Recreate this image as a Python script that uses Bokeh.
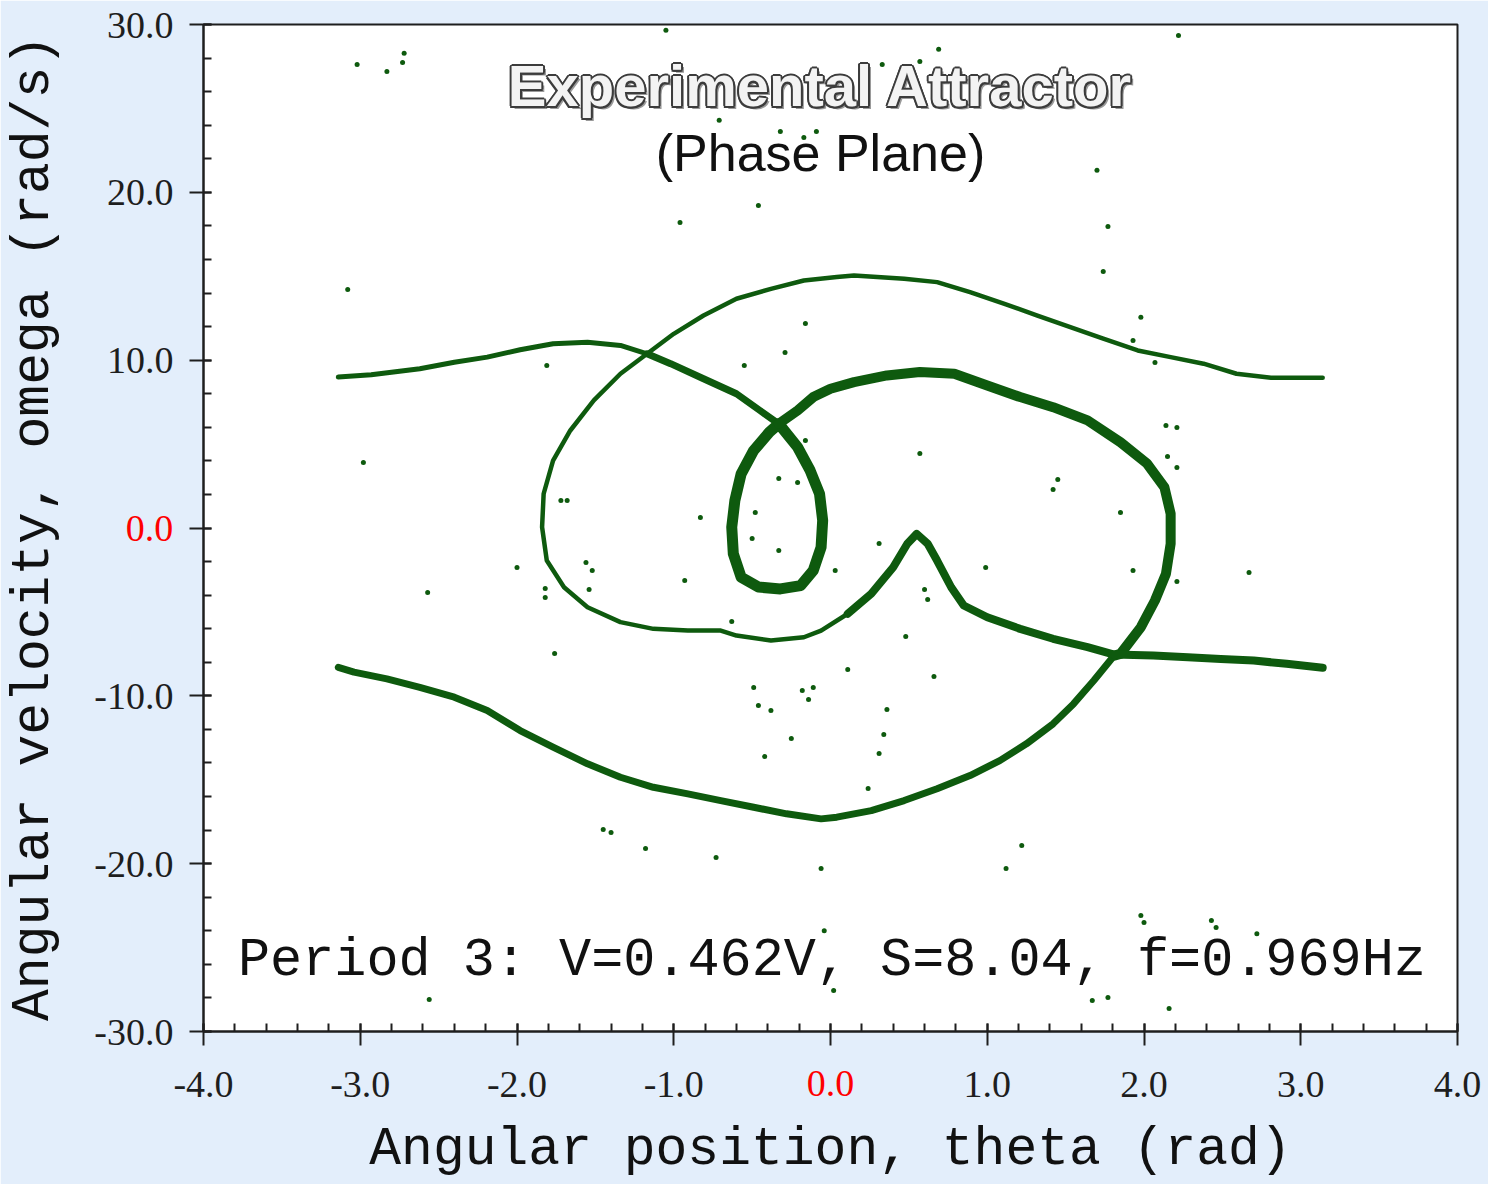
from bokeh.plotting import figure
from bokeh.models import Label, SingleIntervalTicker, PrintfTickFormatter, LinearAxis, FixedTicker
from bokeh.embed import file_html
from bokeh.resources import INLINE

# ---- attractor trace (theta in rad, omega in rad/s) ----
# first pass: enters at -pi on the upper branch
top_left_theta = [-3.14, -2.93, -2.62, -2.40, -2.19, -1.98, -1.77, -1.55, -1.34, -1.17]
top_left_omega = [8.99, 9.13, 9.49, 9.88, 10.18, 10.62, 10.98, 11.07, 10.88, 10.38]

descent_theta = [-1.17, -1.02, -0.81, -0.60, -0.45, -0.33]
descent_omega = [10.38, 9.79, 8.89, 8.00, 7.00, 6.21]

small_loop_theta = [-0.33, -0.21, -0.13, -0.07, -0.05, -0.06, -0.11, -0.19, -0.32, -0.46, -0.57,
                    -0.62, -0.63, -0.61, -0.57, -0.49, -0.39, -0.33]
small_loop_omega = [6.21, 4.82, 3.43, 2.04, 0.45, -1.14, -2.53, -3.43, -3.63, -3.52, -2.93,
                    -1.54, 0.05, 1.64, 3.23, 4.62, 5.71, 6.21]

right_lobe_theta = [-0.33, -0.21, -0.11, 0.00, 0.15, 0.36, 0.57, 0.79, 1.00, 1.21, 1.42, 1.64,
                    1.85, 2.02, 2.13, 2.17, 2.17, 2.14, 2.07, 1.98, 1.85, 1.81]
right_lobe_omega = [6.21, 7.00, 7.80, 8.30, 8.69, 9.09, 9.29, 9.19, 8.49, 7.80, 7.20, 6.41,
                    5.11, 3.83, 2.43, 0.85, -0.94, -2.73, -4.32, -5.91, -7.50, -7.60]

lower_arc_theta = [1.81, 1.68, 1.55, 1.42, 1.25, 1.08, 0.89, 0.68, 0.47, 0.26, 0.04, -0.06, -0.28,
                   -0.49, -0.70, -0.91, -1.13, -1.34, -1.55, -1.77, -1.98, -2.19, -2.40, -2.62,
                   -2.83, -3.04, -3.14]
lower_arc_omega = [-7.60, -9.09, -10.48, -11.67, -12.86, -13.86, -14.75, -15.54, -16.24, -16.84,
                   -17.23, -17.33, -17.03, -16.64, -16.24, -15.84, -15.45, -14.85, -14.05, -13.06,
                   -12.07, -10.88, -10.08, -9.49, -8.99, -8.59, -8.30]

# second pass: re-enters at +pi on the lower branch
cusp_theta = [3.14, 2.91, 2.70, 2.49, 2.28, 2.06, 1.81, 1.64, 1.42, 1.21, 1.00, 0.85, 0.77,
              0.68, 0.62, 0.55, 0.49, 0.40, 0.26, 0.11]
cusp_omega = [-8.33, -8.09, -7.90, -7.80, -7.70, -7.60, -7.54, -7.10, -6.60, -6.01, -5.32, -4.62,
              -3.53, -1.94, -0.94, -0.35, -0.94, -2.34, -3.92, -5.11]

big_loop_theta = [0.11, -0.06, -0.17, -0.38, -0.60, -0.70, -0.91, -1.13, -1.34, -1.55, -1.70,
                  -1.81, -1.84, -1.83, -1.77, -1.66, -1.51, -1.34, -1.17, -1.00, -0.81, -0.60,
                  -0.38, -0.17, 0.04, 0.15, 0.47, 0.68, 0.89, 1.11, 1.32, 1.53, 1.74, 1.96,
                  2.17, 2.38, 2.59, 2.81, 3.14]
big_loop_omega = [-5.11, -6.11, -6.51, -6.70, -6.41, -6.11, -6.11, -6.01, -5.61, -4.72, -3.53,
                  -1.94, 0.05, 2.04, 4.02, 5.81, 7.60, 9.19, 10.38, 11.57, 12.66, 13.66,
                  14.25, 14.75, 14.95, 15.05, 14.85, 14.65, 14.05, 13.36, 12.66, 11.97, 11.28, 10.58,
                  10.18, 9.79, 9.19, 8.95, 8.95]

# isolated samples off the orbit
stray_theta = [-3.02, -2.83, -2.73, -2.72, -3.08, -2.98, -1.05, 0.33, 0.57, 0.69, 0.45, -0.71, -0.32, -0.09,
               -0.17, 1.70, 2.22, 1.77, 1.74, 1.98, 1.93, 2.07, -0.96, -0.46, -0.16, -0.29, -0.55, -1.81,
               -0.16, -0.33, -0.21, -0.48, -0.83, -0.50, -0.33, 0.03, -0.93, -1.72, -1.68, -2.00, -1.56,
               -1.52, -1.54, -1.82, -1.82, -2.57, -0.63, -1.76, 2.14, 2.21, 2.15, 2.21, 0.57, 1.45, 1.42,
               1.85, 0.31, 0.99, 1.93, 2.21, 2.67, 0.60, 0.62, 0.48, 0.11, 0.66, 0.36, 0.34, 0.31, 0.24,
               -0.49, -0.46, -0.38, -0.18, -0.11, -0.14, -0.25, -0.42, -1.45, -1.40, -1.18, -0.73, -0.06,
               1.12, 1.22, -2.56, -0.04, 0.02, 1.98, 2.00, 2.43, 2.46, 2.72, 1.67, 1.77, 2.16]
stray_omega = [27.62, 27.20, 27.74, 28.28, 14.21, 3.90, 29.65, 27.62, 27.80, 28.52, 26.97, 24.29, 23.62, 23.62,
               23.27, 21.31, 29.35, 17.97, 15.29, 12.55, 11.17, 9.86, 18.21, 19.22, 12.19, 10.46, 9.68, 9.68,
               5.21, 2.95, 2.71, 0.92, 0.63, -0.63, -1.34, -2.53, -3.13, 1.64, 1.64, -2.35, -2.06,
               -2.53, -3.67, -3.61, -4.14, -3.84, -5.57, -7.48, 6.11, 5.99, 4.26, 3.61, 4.44, 2.89, 2.29,
               0.92, -0.92, -2.35, -2.53, -3.19, -2.65, -3.67, -4.26, -6.47, -8.43, -8.85, -10.82, -12.31, -13.44, -15.52,
               -9.51, -10.58, -10.88, -9.68, -9.51, -10.22, -12.54, -13.62, -17.97, -18.15, -19.10, -19.64, -20.29,
               -20.29, -18.92, -28.10, -23.99, -27.56, -23.09, -23.51, -23.39, -23.80, -24.17, -28.16, -27.98, -28.63]

x_name = "Angular position, theta (rad)"
y_name = "Angular velocity, omega (rad/s)"
zero_label = "0.0"
run_caption = "Period 3: V=0.462V, S=8.04, f=0.969Hz"

GREEN = "#0e5a0e"
BG = "#e3eefb"
INK = "#1e1e1e"
TICK_FONT_PX = 38
TICK_LABEL_H = 37   # height of a tick label row at TICK_FONT_PX
TICK_LABEL_W = 82   # width of the widest left tick label ("-30.0")

p = figure(width=1488, height=1184, x_range=(-4, 4), y_range=(-30, 30),
           output_backend="svg", toolbar_location=None,
           min_border_left=203, min_border_right=31, min_border_top=24, min_border_bottom=153)
p.border_fill_color = BG
p.background_fill_color = "white"
p.outline_line_color = INK
p.outline_line_width = 2
p.grid.visible = False

# main axes: ticks and black labels; the zero label is the axis' own (red) axis label,
# pulled back into the tick-label row by a negative standoff
for ax, step in ((p.xaxis[0], 1), (p.yaxis[0], 10)):
    ax.ticker = SingleIntervalTicker(interval=step, num_minor_ticks=5)
    ax.formatter = PrintfTickFormatter(format="%.1f")
    ax.major_label_overrides = {0: " "}
    ax.axis_line_color = INK
    ax.axis_line_width = 2
    ax.major_tick_line_color = INK
    ax.major_tick_line_width = 2
    ax.minor_tick_line_color = INK
    ax.minor_tick_line_width = 2
    ax.major_tick_in = 8
    ax.major_tick_out = 14
    ax.minor_tick_in = 8
    ax.minor_tick_out = 0
    ax.major_label_text_font = "Liberation Serif"
    ax.major_label_text_font_size = f"{TICK_FONT_PX}px"
    ax.major_label_text_color = INK
    ax.axis_label = zero_label
    ax.axis_label_text_color = "red"
    ax.axis_label_text_font = "Liberation Serif"
    ax.axis_label_text_font_size = f"{TICK_FONT_PX}px"
    ax.axis_label_text_font_style = "normal"

p.xaxis[0].major_label_standoff = 17
p.xaxis[0].axis_label_standoff = -TICK_LABEL_H
p.yaxis[0].major_label_standoff = 16
p.yaxis[0].axis_label_orientation = "horizontal"
p.yaxis[0].axis_label_standoff = -TICK_LABEL_W


def name_axis(text, standoff):
    ax = LinearAxis(ticker=FixedTicker(ticks=[]), axis_line_color=None,
                    major_tick_in=0, major_tick_out=0, minor_tick_in=0, minor_tick_out=0,
                    major_label_text_font_size="0px")
    ax.axis_label = text
    ax.axis_label_standoff = standoff
    ax.axis_label_text_font = "Liberation Mono"
    ax.axis_label_text_font_size = "53px"
    ax.axis_label_text_font_style = "normal"
    ax.axis_label_text_color = "#111111"
    return ax


p.add_layout(name_axis(x_name, 21), "below")
p.add_layout(name_axis(y_name, 59), "left")

# orbit
pieces = [
    (top_left_theta, top_left_omega, 5),
    (descent_theta, descent_omega, 7),
    (small_loop_theta, small_loop_omega, 11),
    (right_lobe_theta, right_lobe_omega, 10),
    (lower_arc_theta, lower_arc_omega, 7),
    (cusp_theta, cusp_omega, 8),
    (big_loop_theta, big_loop_omega, 4.5),
]
for xs, ys, w in pieces:
    p.line(xs, ys, line_color=GREEN, line_width=w, line_cap="round", line_join="round")

p.scatter(stray_theta, stray_omega, size=5, color=GREEN, line_color=None)

# outlined heading with a drop shadow
head_x, head_y = -0.064, 26.35
head = dict(text="Experimental Attractor", text_align="center", text_baseline="alphabetic",
            text_font="Liberation Sans", text_font_style="bold", text_font_size="58px")
p.add_layout(Label(x=head_x, y=head_y, x_offset=3, y_offset=-3, text_color="#9a9a9a", **head))
for dx, dy in ((-2, 0), (2, 0), (0, -2), (0, 2), (-1.5, -1.5), (1.5, -1.5), (-1.5, 1.5), (1.5, 1.5)):
    p.add_layout(Label(x=head_x, y=head_y, x_offset=dx, y_offset=dy, text_color="#3c3c3c", **head))
p.add_layout(Label(x=head_x, y=head_y, text_color="#f3f3f3", **head))

p.add_layout(Label(x=head_x, y=22.35, text="(Phase Plane)", text_align="center",
                   text_baseline="alphabetic", text_font="Liberation Sans",
                   text_font_size="52px", text_color="#111111"))

p.add_layout(Label(x=-3.78, y=-25.75, text=run_caption, text_align="left",
                   text_baseline="alphabetic", text_font="Liberation Mono",
                   text_font_size="53.5px", text_color="#111111"))

open("out.html", "w").write(file_html(p, INLINE))
